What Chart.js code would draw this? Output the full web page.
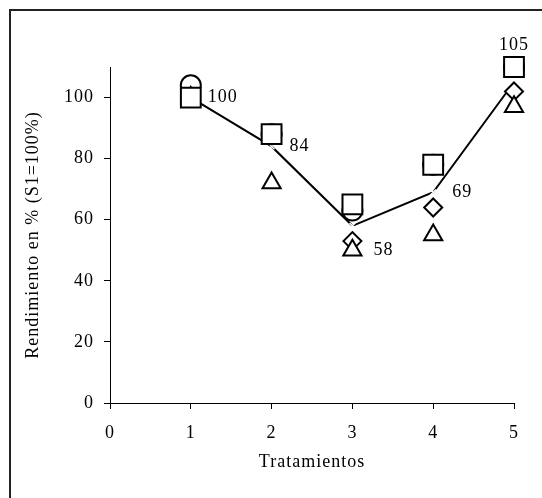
<!doctype html>
<html lang="es">
<head>
<meta charset="utf-8">
<title>Rendimiento</title>
<script src="https://cdn.jsdelivr.net/npm/chart.js@4/dist/chart.umd.min.js"></script>
<style>
  html, body { margin: 0; padding: 0; background: #fff; overflow: hidden; }
  #wrap { position: relative; width: 542px; height: 498px; }
  #marco { position: absolute; left: 9px; top: 9px; width: 700px; height: 700px;
           border-left: 2px solid #222; border-top: 2px solid #222; }
  canvas { position: absolute; left: 0; top: 0; }
</style>
</head>
<body>
<div id="wrap">
  <div id="marco"></div>
  <canvas id="chart" width="542" height="498"></canvas>
</div>
<script>
// tratamientos (eje x)
var tratamientos = [1, 2, 3, 4, 5];
// promedio (linea con etiquetas)
var promedio = [100, 84, 58, 69, 105];
// series individuales (marcadores)
var cuadrados = [100, 88, 65, 78, 110];
var triangulos = [100, 72, 50, 55, 97];
var rombos = [100, 88, 53, 64, 102];
var circulos = [104, 88, 63, 78, 110];
// ticks
var yTicks = [0, 20, 40, 60, 80, 100];
var xTicks = [0, 1, 2, 3, 4, 5];

var fuente = "'Liberation Serif', 'Times New Roman', serif";

function puntos(vals) {
    return tratamientos.map(function (t, i) { return { x: t, y: vals[i] }; });
}

function serieMarcas(vals, estilo, radio) {
    return {
        type: 'scatter',
        data: puntos(vals),
        clip: false,
        pointStyle: estilo,
        pointRadius: radio,
        pointHoverRadius: radio,
        pointBorderWidth: 2,
        pointBorderColor: '#000',
        pointBackgroundColor: '#fff',
        showLine: false
    };
}

// etiquetas de la linea promedio
var etiquetas = {
    id: 'etiquetas',
    afterDatasetsDraw: function (chart) {
        var ctx = chart.ctx;
        var desp = [[17, 0, 'left'], [18, 0, 'left'], [21, 24, 'left'], [19, 0, 'left'], [0, -37, 'center']];
        ctx.save();
        ctx.font = '18px ' + fuente;
        ctx.fillStyle = '#000';
        ctx.textBaseline = 'middle';
        ctx.letterSpacing = '1px';
        promedio.forEach(function (v, i) {
            var px = chart.scales.x.getPixelForValue(tratamientos[i]);
            var py = chart.scales.y.getPixelForValue(v);
            ctx.textAlign = desp[i][2];
            ctx.fillText(String(v), px + desp[i][0], py + desp[i][1]);
        });
        ctx.restore();
    },
    beforeDraw: function (chart) {
        chart.ctx.letterSpacing = '1px';
    }
};

new Chart(document.getElementById('chart'), {
    type: 'scatter',
    data: {
        datasets: [
            serieMarcas(cuadrados, 'rect', 14),
            serieMarcas(triangulos, 'triangle', 10.5),
            serieMarcas(rombos, 'rectRot', 9),
            serieMarcas(circulos, 'circle', 10),
            {
                type: 'line',
                data: puntos(promedio),
                clip: false,
                borderColor: '#000',
                borderWidth: 2,
                tension: 0,
                fill: false,
                pointStyle: 'crossRot',
                pointRadius: 4,
                pointBorderColor: '#fff',
                pointBorderWidth: 1.5
            }
        ]
    },
    options: {
        responsive: false,
        animation: false,
        events: [],
        layout: { padding: { top: 67, right: 28, left: 0, bottom: 0 } },
        plugins: { legend: { display: false }, tooltip: { enabled: false } },
        scales: {
            x: {
                type: 'linear',
                min: 0,
                max: 5,
                afterBuildTicks: function (s) { s.ticks = xTicks.map(function (v) { return { value: v }; }); },
                afterFit: function (s) { s.height = 95; },
                grid: { drawOnChartArea: false, tickLength: 6, color: '#000', lineWidth: 1 },
                border: { color: '#000', width: 1 },
                ticks: { color: '#000', padding: 13, maxRotation: 0, font: { family: fuente, size: 18 } },
                title: {
                    display: true, text: 'Tratamientos', color: '#000',
                    font: { family: fuente, size: 18 }, padding: { top: 0, bottom: 25 }
                }
            },
            y: {
                min: 0,
                max: 110,
                afterBuildTicks: function (s) { s.ticks = yTicks.map(function (v) { return { value: v }; }); },
                afterFit: function (s) { s.width = 110; },
                grid: { drawOnChartArea: false, tickLength: 6, color: '#000', lineWidth: 1 },
                border: { color: '#000', width: 1 },
                ticks: { color: '#000', padding: 10, font: { family: fuente, size: 18 } },
                title: {
                    display: true, text: 'Rendimiento en % (S1=100%)', color: '#000',
                    font: { family: fuente, size: 18 }, padding: { top: 22, bottom: 0 }
                }
            }
        }
    },
    plugins: [etiquetas]
});
</script>
</body>
</html>
